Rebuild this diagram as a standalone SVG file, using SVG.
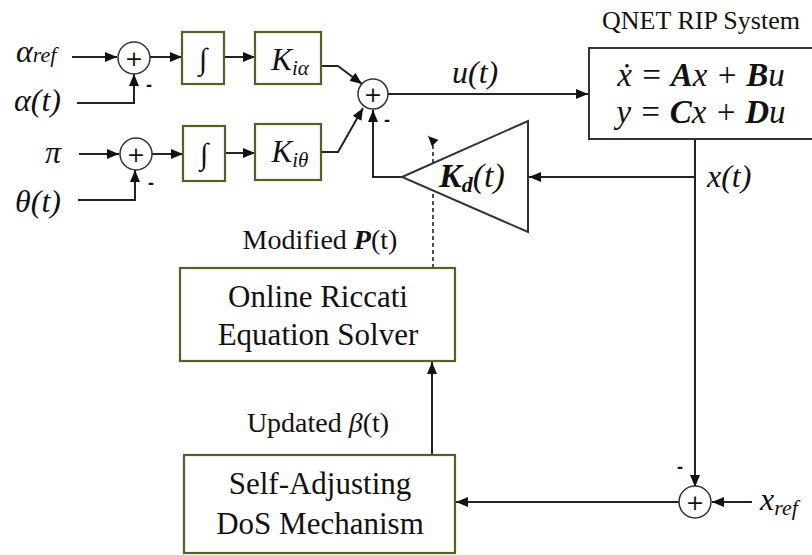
<svg xmlns="http://www.w3.org/2000/svg" width="812" height="555" viewBox="0 0 812 555">
<defs>
<marker id="arr" markerWidth="12" markerHeight="10" refX="12" refY="5" orient="auto" markerUnits="userSpaceOnUse">
<path d="M0,0 L12,5 L0,10 Z" fill="#111"/>
</marker>
<marker id="arrs" markerWidth="10" markerHeight="9" refX="10" refY="4.5" orient="auto" markerUnits="userSpaceOnUse">
<path d="M0,0 L10,4.5 L0,9 Z" fill="#111"/>
</marker>
<style>
.ln{fill:none;stroke:#222;stroke-width:2}
.gb{fill:#fff;stroke:#4f6228;stroke-width:2.2}
.bb{fill:#fff;stroke:#333;stroke-width:2}
.sum{fill:#fff;stroke:#333;stroke-width:1.5}
.t{font-family:"Liberation Serif",serif;fill:#111}
.m{font-family:"Liberation Serif",serif;font-style:italic;fill:#111}
.pl{font-family:"DejaVu Sans",sans-serif;fill:#111;font-size:22px;text-anchor:middle}
.mi{font-family:"Liberation Sans",sans-serif;font-weight:bold;fill:#111;font-size:18px}
</style>
</defs>

<g id="connectors">
<line class="ln" x1="72" y1="57" x2="117" y2="57" marker-end="url(#arr)"/>
<polyline class="ln" points="77,103 134,103 134,74" marker-end="url(#arr)"/>
<line class="ln" x1="150" y1="57" x2="182" y2="57" marker-end="url(#arr)"/>
<line class="ln" x1="224" y1="57" x2="255" y2="57" marker-end="url(#arr)"/>
<polyline class="ln" points="321,66 338,66 362,84" marker-end="url(#arr)"/>
<line class="ln" x1="79" y1="154" x2="119" y2="154" marker-end="url(#arr)"/>
<polyline class="ln" points="78,200 135,200 135,170" marker-end="url(#arr)"/>
<line class="ln" x1="152" y1="154" x2="183" y2="154" marker-end="url(#arr)"/>
<line class="ln" x1="225" y1="153" x2="255" y2="153" marker-end="url(#arr)"/>
<polyline class="ln" points="321,152 338,152 363,108" marker-end="url(#arr)"/>
<line class="ln" x1="388" y1="94" x2="588" y2="94" marker-end="url(#arr)"/>
<polyline class="ln" points="402,177 373,177 373,110" marker-end="url(#arr)"/>
<line class="ln" x1="695" y1="177" x2="529" y2="177" marker-end="url(#arr)"/>
<line class="ln" x1="695" y1="139" x2="695" y2="487" marker-end="url(#arr)"/>
<line class="ln" x1="752" y1="502" x2="712" y2="502" marker-end="url(#arr)"/>
<line class="ln" x1="679" y1="502" x2="456" y2="502" marker-end="url(#arr)"/>
<line class="ln" x1="432" y1="455" x2="432" y2="362" marker-end="url(#arr)"/>
<path d="M433,268 L433,148 Q433,141 428,136" fill="none" stroke="#222" stroke-width="1.6" stroke-dasharray="4,3" marker-end="url(#arrs)"/>
</g>

<g id="sum1"><circle class="sum" cx="134" cy="58" r="16"/><text class="pl" x="134" y="66">+</text></g>
<g id="sum2"><circle class="sum" cx="373" cy="94" r="15"/><text class="pl" x="373" y="102">+</text></g>
<g id="sum3"><circle class="sum" cx="136" cy="154" r="16"/><text class="pl" x="136" y="162">+</text></g>
<g id="sum4"><circle class="sum" cx="695" cy="502" r="16"/><text class="pl" x="695" y="510">+</text></g>

<g id="minus-signs">
<text class="mi" x="146" y="91">-</text>
<text class="mi" x="148" y="189">-</text>
<text class="mi" x="384" y="126">-</text>
<text class="mi" x="677" y="473">-</text>
</g>

<g id="int1"><rect class="gb" x="182" y="32" width="42" height="52"/><text class="m" x="203" y="69" font-size="30" text-anchor="middle">∫</text></g>
<g id="int2"><rect class="gb" x="183" y="126" width="42" height="55"/><text class="m" x="204" y="164" font-size="30" text-anchor="middle">∫</text></g>
<g id="kia"><rect class="gb" x="255" y="32" width="66" height="52"/><text class="m" x="290" y="70" font-size="31" text-anchor="middle">K<tspan font-size="21" dy="5">iα</tspan></text></g>
<g id="kith"><rect class="gb" x="255" y="124" width="66" height="56"/><text class="m" x="290" y="162" font-size="31" text-anchor="middle">K<tspan font-size="21" dy="5">iθ</tspan></text></g>

<g id="kd">
<polygon points="402,177 528,121 528,232" fill="#fff" stroke="#333" stroke-width="2"/>
<text class="m" x="439" y="187" font-size="34"><tspan font-weight="bold">K</tspan><tspan font-weight="bold" font-size="22" dy="5">d</tspan><tspan dy="-5">(t)</tspan></text>
</g>

<g id="system">
<text class="t" x="701" y="29" font-size="26" text-anchor="middle">QNET RIP System</text>
<rect class="bb" x="589" y="48" width="240" height="91"/>
<text class="m" x="701" y="86" font-size="33" text-anchor="middle">ẋ = <tspan font-weight="bold">A</tspan>x + <tspan font-weight="bold">B</tspan>u</text>
<text class="m" x="701" y="123" font-size="33" text-anchor="middle">y = <tspan font-weight="bold">C</tspan>x + <tspan font-weight="bold">D</tspan>u</text>
</g>

<g id="riccati">
<rect class="gb" x="180" y="268" width="275" height="93"/>
<text class="t" x="318" y="307" font-size="31" text-anchor="middle">Online Riccati</text>
<text class="t" x="318" y="345" font-size="31" text-anchor="middle">Equation Solver</text>
</g>

<g id="dos">
<rect class="gb" x="184" y="455" width="271" height="98"/>
<text class="t" x="320" y="494" font-size="31" text-anchor="middle">Self-Adjusting</text>
<text class="t" x="320" y="534" font-size="31" text-anchor="middle">DoS Mechanism</text>
</g>

<g id="labels">
<text class="m" x="16" y="62" font-size="32">α<tspan font-size="22">ref</tspan></text>
<text class="m" x="14" y="111" font-size="32">α(t)</text>
<text class="m" x="45" y="163" font-size="32">π</text>
<text class="m" x="15" y="212" font-size="32">θ(t)</text>
<text class="m" x="452" y="83" font-size="32">u(t)</text>
<text class="m" x="707" y="187" font-size="32">x(t)</text>
<text class="m" x="760" y="510" font-size="32">x<tspan font-size="22" dy="5">ref</tspan></text>
<text class="t" x="320" y="249" font-size="28" text-anchor="middle">Modified <tspan font-style="italic" font-weight="bold">P</tspan>(t)</text>
<text class="t" x="318" y="432" font-size="28" text-anchor="middle">Updated <tspan font-style="italic">β</tspan>(t)</text>
</g>
</svg>
